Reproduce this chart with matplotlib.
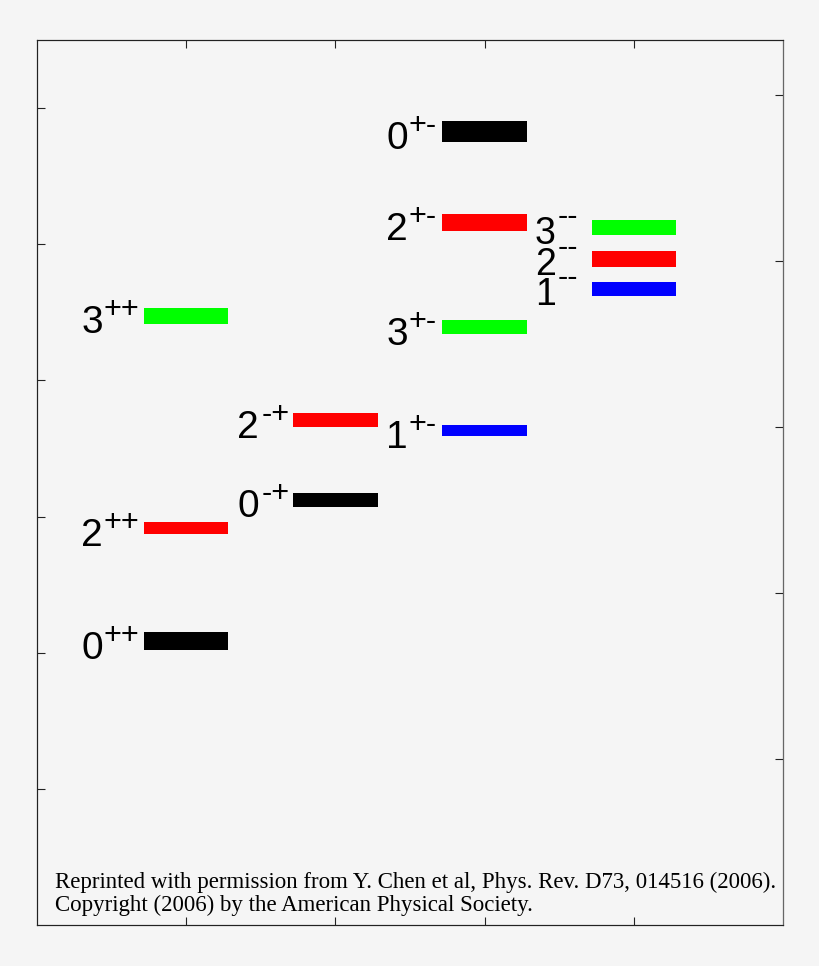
import matplotlib
matplotlib.use("Agg")
import matplotlib.pyplot as plt
from matplotlib.transforms import offset_copy

# glueball masses (GeV) and statistical errors
spins = ["0", "2", "3", "0", "2", "0", "2", "3", "1", "3", "2", "1"]
pcs = ["++", "++", "++", "-+", "-+", "+-", "+-", "+-", "+-", "--", "--", "--"]
columns = [1, 1, 1, 2, 2, 3, 3, 3, 3, 4, 4, 4]
mass_gev = [1.71, 2.39, 3.67, 2.56, 3.04, 4.78, 4.23, 3.60, 2.98, 4.20, 4.01, 3.83]
stat_err = [0.052, 0.035, 0.048, 0.042, 0.042, 0.062, 0.051, 0.042, 0.033, 0.047, 0.047, 0.044]

r0_inv = 0.41  # GeV
r0_ticks = [2, 4, 6, 8, 10, 12]
gev_ticks = [1, 2, 3, 4, 5]
x_ticks = [1, 2, 3, 4]

spin_colour = {"0": "black", "1": "#0000ff", "2": "#ff0000", "3": "#00ff00"}

bg = "#f5f5f5"
fig = plt.figure(figsize=(8.2, 9.66), dpi=100, facecolor=bg)
ax = fig.add_axes([37 / 820, 41 / 966, 746 / 820, 885 / 966], facecolor=bg)

bar_w = 0.565
for s, pc, col, m, e in zip(spins, pcs, columns, mass_gev, stat_err):
    ax.bar(col, 2 * e, bottom=m - e, width=bar_w, color=spin_colour[s],
           linewidth=0, zorder=3)
    left = col - bar_w / 2
    if col == 4:
        d_size, d_off, d_base, s_shift, s_base = 27, 57, -16, 23, 3
    else:
        d_size, d_base, s_base = 28, -17.5, -2.5
        d_off = 63 if pc == "++" else 56
        s_shift = 24 if pc == "-+" else 22.5
    tr_d = offset_copy(ax.transData, fig, x=-d_off, y=d_base, units="dots")
    tr_s = offset_copy(ax.transData, fig, x=-d_off + s_shift, y=s_base, units="dots")
    ax.text(left, m, s, transform=tr_d, fontsize=d_size, family="Liberation Sans",
            ha="left", va="baseline")
    ax.text(left, m, pc, transform=tr_s, fontsize=22, family="Liberation Sans",
            ha="left", va="baseline")

ax.set_xlim(0, 5)
ax.set_ylim(0, 13 * r0_inv)
ax.set_xticks(x_ticks)
ax.set_yticks([r * r0_inv for r in r0_ticks])
ax.tick_params(direction="in", length=6, width=0.8, top=True, right=False,
               labelbottom=False, labelleft=False, colors="#222222")

ax2 = ax.twinx()
ax2.set_ylim(0, 13 * r0_inv)
ax2.set_yticks(gev_ticks)
ax2.tick_params(direction="in", length=6, width=0.8, labelright=False,
                colors="#222222")

for a in (ax, ax2):
    for sp in a.spines.values():
        sp.set_linewidth(0.8)
        sp.set_color("#222222")
ax2.spines["right"].set_color("#666666")

fig.text(55 / 820, 1 - 888 / 966,
         "Reprinted with permission from Y. Chen et al, Phys. Rev. D73, 014516 (2006).",
         family="Liberation Serif", fontsize=16.5, va="baseline", ha="left")
fig.text(55 / 820, 1 - 910.5 / 966,
         "Copyright (2006) by the American Physical Society.",
         family="Liberation Serif", fontsize=16.5, va="baseline", ha="left")

fig.savefig("out.png", dpi=100, facecolor=bg)
